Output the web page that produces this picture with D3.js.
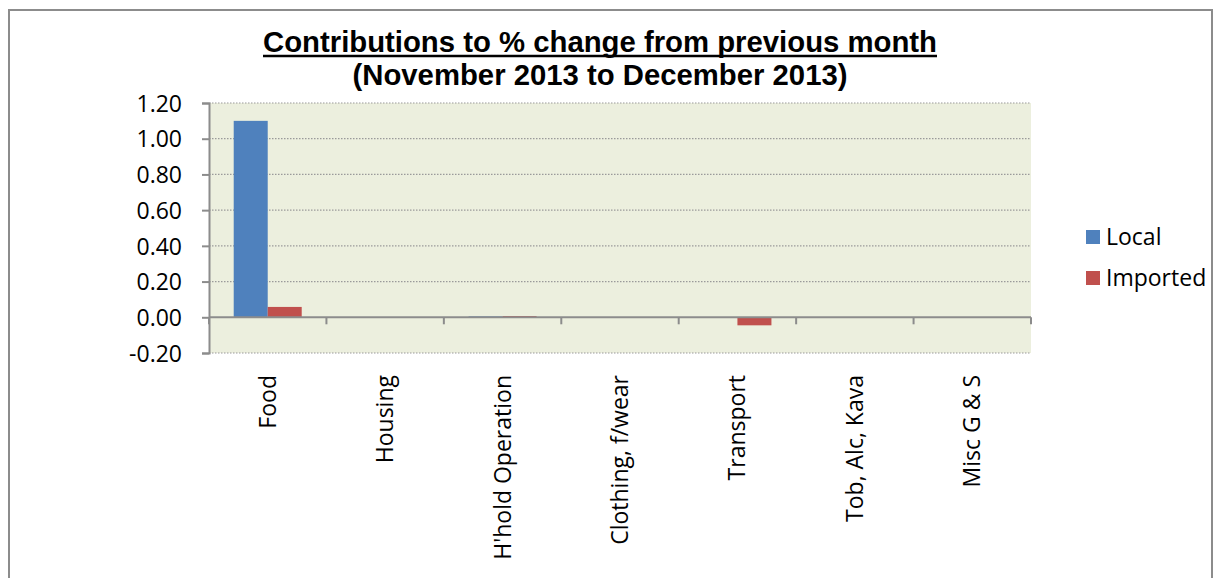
<!DOCTYPE html>
<html lang="en">
<head>
<meta charset="UTF-8">
<title>Contributions to % change</title>
<script src="https://d3js.org/d3.v7.min.js"></script>
<style>
    body { margin: 0; background: #fff; }
    svg { display: block; }
    .title { font-family: "Liberation Sans", Arial, sans-serif; font-weight: bold; font-size: 29px; }
    .lbl { font-family: "Open Sans", sans-serif; font-size: 23px; fill: #000; }
</style>
</head>
<body>
<svg id="chart" width="1218" height="578"></svg>
<script>
    const categories = ["Food", "Housing", "H'hold Operation", "Clothing, f/wear", "Transport", "Tob, Alc, Kava", "Misc G & S"];
    const seriesNames = ["Local", "Imported"];
    const localValues = [1.10, 0.00, 0.005, 0.00, 0.00, 0.00, 0.00];
    const importedValues = [0.058, 0.00, 0.007, 0.00, -0.045, 0.00, 0.00];
    const yTicks = [-0.20, 0.00, 0.20, 0.40, 0.60, 0.80, 1.00, 1.20];
    const colors = ["#4F81BD", "#C0504D"];

    const svg = d3.select("#chart");
    const plotL = 209, plotR = 1031, plotT = 103, plotB = 353;

    // outer frame
    svg.append("rect").attr("x", 9).attr("y", 10).attr("width", 1203).attr("height", 580)
        .attr("fill", "none").attr("stroke", "#8c8c8c").attr("stroke-width", 2);

    // title (condensed look: stretch to the original width)
    svg.append("text").attr("class", "title").attr("x", 600).attr("y", 52)
        .attr("text-anchor", "middle").attr("textLength", 674).attr("lengthAdjust", "spacingAndGlyphs")
        .text("Contributions to % change from previous month");
    svg.append("text").attr("class", "title").attr("x", 600).attr("y", 85)
        .attr("text-anchor", "middle").attr("textLength", 495).attr("lengthAdjust", "spacingAndGlyphs")
        .text("(November 2013 to December 2013)");
    svg.append("line").attr("x1", 263).attr("x2", 937).attr("y1", 56).attr("y2", 56)
        .attr("stroke", "#000").attr("stroke-width", 2.5);

    const x = d3.scaleBand().domain(categories).range([plotL, plotR]);
    const y = d3.scaleLinear().domain([-0.2, 1.2]).range([plotB, plotT]);
    const barW = 34;

    svg.append("rect").attr("x", plotL).attr("y", plotT).attr("width", plotR - plotL).attr("height", plotB - plotT)
        .attr("fill", "#ECEFDE");

    // gridlines
    svg.append("g").selectAll("line").data(yTicks.filter(d => d !== 0)).join("line")
        .attr("x1", plotL).attr("x2", plotR)
        .attr("y1", d => y(d)).attr("y2", d => y(d))
        .attr("stroke", "#9a9a9a").attr("stroke-width", 1.2).attr("stroke-dasharray", "1.5,1.5");

    // bars
    const data = [];
    categories.forEach((c, i) => {
        data.push({ c, s: 0, v: localValues[i] });
        data.push({ c, s: 1, v: importedValues[i] });
    });
    svg.append("g").selectAll("rect").data(data).join("rect")
        .attr("x", d => x(d.c) + x.bandwidth() / 2 - barW + d.s * barW)
        .attr("width", barW)
        .attr("y", d => Math.min(y(d.v), y(0)))
        .attr("height", d => Math.abs(y(d.v) - y(0)))
        .attr("fill", d => colors[d.s]);

    // y axis
    const fmt = d => d.toFixed(2);
    const yAxis = svg.append("g").attr("transform", `translate(${plotL},0)`)
        .call(d3.axisLeft(y).tickValues(yTicks).tickFormat(fmt).tickSize(7).tickPadding(20));
    yAxis.attr("font-family", null).attr("font-size", null);
    yAxis.select(".domain").attr("stroke", "#8c8c8c").attr("stroke-width", 2);
    yAxis.selectAll(".tick line").attr("stroke", "#8c8c8c").attr("stroke-width", 2);
    yAxis.selectAll(".tick text").attr("class", "lbl").attr("dy", "0.36em");

    // x axis at zero
    const xAxisG = svg.append("g").attr("transform", `translate(0,${y(0)})`);
    xAxisG.append("line").attr("x1", plotL).attr("x2", plotR).attr("stroke", "#8c8c8c").attr("stroke-width", 2);
    const edges = categories.map(c => x(c)).concat([plotR]);
    xAxisG.selectAll("line.tk").data(edges).join("line").attr("class", "tk")
        .attr("x1", d => d).attr("x2", d => d).attr("y1", 0).attr("y2", 7)
        .attr("stroke", "#8c8c8c").attr("stroke-width", 2);

    // category labels
    svg.append("g").selectAll("text").data(categories).join("text").attr("class", "lbl")
        .attr("transform", d => `translate(${x(d) + x.bandwidth() / 2 + 8},375) rotate(-90)`)
        .attr("text-anchor", "end").text(d => d);

    // legend
    const lg = svg.append("g").selectAll("g").data(seriesNames).join("g")
        .attr("transform", (d, i) => `translate(1086,${237 + i * 41})`);
    lg.append("rect").attr("x", 0).attr("y", -7).attr("width", 14).attr("height", 14)
        .attr("fill", (d, i) => colors[i]);
    lg.append("text").attr("class", "lbl").attr("x", 20).attr("dy", "0.36em").text(d => d);
</script>
</body>
</html>
